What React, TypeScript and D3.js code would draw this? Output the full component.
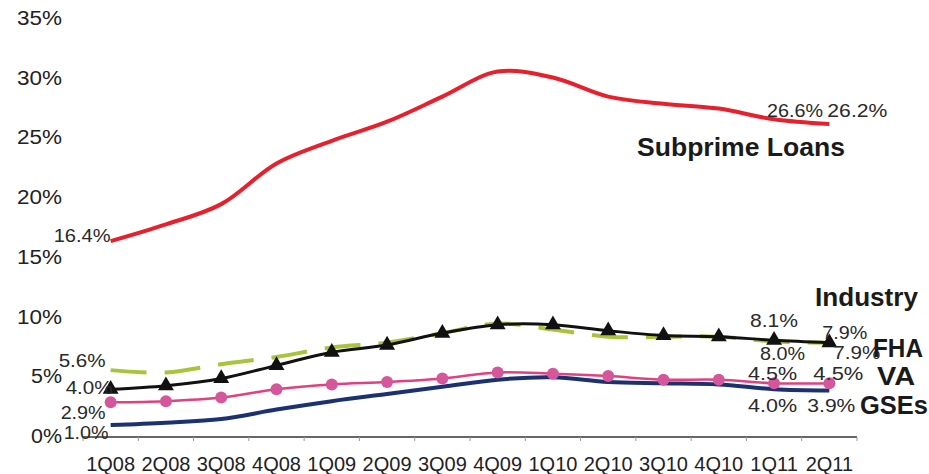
import React from 'react';
import * as d3 from 'd3';

const categories = ['1Q08', '2Q08', '3Q08', '4Q08', '1Q09', '2Q09', '3Q09', '4Q09', '1Q10', '2Q10', '3Q10', '4Q10', '1Q11', '2Q11'];
const subprime = [16.4, 17.8, 19.5, 22.9, 24.8, 26.4, 28.5, 30.6, 30.1, 28.5, 27.9, 27.5, 26.6, 26.2];
const industry = [4.0, 4.3, 4.9, 6.0, 7.1, 7.7, 8.7, 9.4, 9.4, 8.9, 8.5, 8.4, 8.1, 7.9];
const fha = [5.6, 5.4, 6.1, 6.7, 7.5, 7.9, 8.7, 9.5, 9.0, 8.4, 8.4, 8.4, 8.0, 7.9];
const va = [2.9, 3.0, 3.3, 4.0, 4.4, 4.6, 4.9, 5.4, 5.3, 5.1, 4.8, 4.8, 4.5, 4.5];
const gses = [1.0, 1.2, 1.5, 2.3, 3.0, 3.6, 4.2, 4.8, 5.0, 4.6, 4.5, 4.4, 4.0, 3.9];
const yTicks = [0, 5, 10, 15, 20, 25, 30, 35];

const FONT = 'Liberation Sans, Arial, sans-serif';

export default function App() {
  const W = 929;
  const H = 474;
  const x = d3.scaleBand<string>().domain(categories).range([83, 857]);
  const cx = (i: number) => (x(categories[i]) as number) + x.bandwidth() / 2;
  const y = d3.scaleLinear().domain([0, 35]).range([437, 19]);
  const mkLine = (vals: number[]) =>
    d3
      .line<number>()
      .x((_, i) => cx(i))
      .y((v) => y(v))
      .curve(d3.curveCatmullRom.alpha(0.5))(vals) as string;

  const fmt = (v: number) => v.toFixed(1) + '%';
  const tri = d3.symbol().type(d3.symbolTriangle).size(110)() as string;
  const last = categories.length - 1;
  const prev = last - 1;

  const pct = (txt: string, px: number, py: number, anchor: string, len: number, key: string) => (
    <text key={key} x={px} y={py} textAnchor={anchor} fontSize={19} fill="#2a2a2a" fontFamily={FONT}
      textLength={len} lengthAdjust="spacingAndGlyphs">{txt}</text>
  );
  const bold = (txt: string, px: number, py: number, len: number) => (
    <text x={px} y={py} fontSize={25} fontWeight="bold" fill="#1a1a1a" fontFamily={FONT}
      textLength={len} lengthAdjust="spacingAndGlyphs">{txt}</text>
  );

  return (
    <svg width={W} height={H} style={{ position: 'absolute', left: 0, top: 0, background: '#fff' }}>
      <rect x={0} y={0} width={W} height={H} fill="#fff" />
      {/* y tick labels */}
      {yTicks.map((t) => (
        <text key={t} x={62} y={y(t) + 6} textAnchor="end" fontSize={20} fill="#222" fontFamily={FONT}
          textLength={t >= 10 ? 45 : 31} lengthAdjust="spacingAndGlyphs">{t}%</text>
      ))}
      {/* x axis */}
      <line x1={83} x2={857} y1={y(0)} y2={y(0)} stroke="#333" strokeWidth={1.5} />
      {categories.map((c) => (
        <line key={'t' + c} x1={x(c) as number} x2={x(c) as number} y1={y(0)} y2={y(0) + 4} stroke="#999" strokeWidth={1} />
      ))}
      <line x1={857} x2={857} y1={y(0)} y2={y(0) + 4} stroke="#999" strokeWidth={1} />
      {categories.map((c, i) => (
        <text key={'l' + c} x={cx(i)} y={471} textAnchor="middle" fontSize={20} fill="#222" fontFamily={FONT}>{c}</text>
      ))}

      {/* series */}
      <path d={mkLine(fha)} fill="none" stroke="#a8c43c" strokeWidth={4} strokeDasharray="36,18" />
      <path d={mkLine(industry)} fill="none" stroke="#111" strokeWidth={3} />
      {industry.map((v, i) => (
        <path key={'tr' + i} d={tri} transform={`translate(${cx(i)},${y(v)})`} fill="#111" />
      ))}
      <path d={mkLine(gses)} fill="none" stroke="#1b3170" strokeWidth={4} />
      <path d={mkLine(va)} fill="none" stroke="#e2407f" strokeWidth={2.5} />
      {va.map((v, i) => (
        <circle key={'c' + i} cx={cx(i)} cy={y(v)} r={6} fill="#d4579b" />
      ))}
      <path d={mkLine(subprime)} fill="none" stroke="#e6202c" strokeWidth={4} />

      {/* data labels */}
      {pct(fmt(subprime[0]), cx(0), y(subprime[0]) + 1, 'end', 57, 's0')}
      {pct(fmt(fha[0]), cx(0) - 5, y(fha[0]) - 3, 'end', 47, 'f0')}
      {pct(fmt(industry[0]), cx(0) + 2, y(industry[0]) + 5, 'end', 47, 'i0')}
      {pct(fmt(va[0]), cx(0) - 5, y(va[0]) + 17, 'end', 45, 'v0')}
      {pct(fmt(gses[0]), cx(0) - 2, y(gses[0]) + 14, 'end', 45, 'g0')}

      {pct(fmt(subprime[prev]), cx(prev) - 7, y(subprime[prev]) - 2, 'start', 56, 'sp')}
      {pct(fmt(subprime[last]), cx(last) - 2, y(subprime[last]) - 7, 'start', 60, 'sl')}
      {pct(fmt(industry[prev]), cx(prev), y(industry[prev]) - 13, 'middle', 48, 'ip')}
      {pct(fmt(industry[last]), cx(last) - 7, y(industry[last]) - 4, 'start', 45, 'il')}
      {pct(fmt(fha[prev]), cx(prev) - 14, y(fha[prev]) + 19, 'start', 45, 'fp')}
      {pct(fmt(fha[last]), cx(last) + 4, y(fha[last]) + 16, 'start', 47, 'fl')}
      {pct(fmt(va[prev]), cx(prev) - 1.5, y(va[prev]) - 3, 'middle', 49, 'vp')}
      {pct(fmt(va[last]), cx(last) + 9, y(va[last]) - 3, 'middle', 50, 'vl')}
      {pct(fmt(gses[prev]), cx(prev) - 1.5, y(gses[prev]) + 23, 'middle', 49, 'gp')}
      {pct(fmt(gses[last]), cx(last) + 2, y(gses[last]) + 22, 'middle', 48, 'gl')}

      {/* series names */}
      {bold('Subprime Loans', 637, 156, 208)}
      {bold('Industry', 815, 306, 103)}
      {bold('FHA', 873, 357, 50)}
      {bold('VA', 877, 385, 38)}
      {bold('GSEs', 860, 414, 68)}
    </svg>
  );
}
